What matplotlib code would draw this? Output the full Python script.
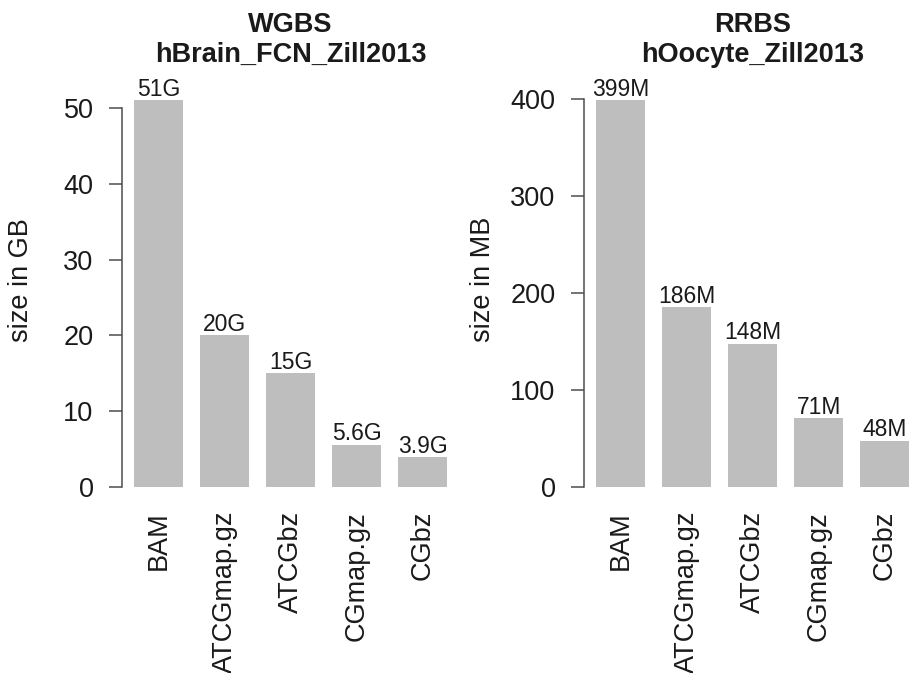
import matplotlib
matplotlib.use("Agg")
import matplotlib.pyplot as plt
import matplotlib.transforms as mtransforms
import numpy as np

plt.rcParams['font.family'] = ['Liberation Sans', 'DejaVu Sans']

# file formats, same order in both panels
formats = ["BAM", "ATCGmap.gz", "ATCGbz", "CGmap.gz", "CGbz"]

# WGBS sample, sizes in GB
wgbs_title = "WGBS\nhBrain_FCN_Zill2013"
wgbs_sizes = [51, 20, 15, 5.6, 3.9]
wgbs_labels = ["51G", "20G", "15G", "5.6G", "3.9G"]
wgbs_ticks = [0, 10, 20, 30, 40, 50]

# RRBS sample, sizes in MB
rrbs_title = "RRBS\nhOocyte_Zill2013"
rrbs_sizes = [399, 186, 148, 71, 48]
rrbs_labels = ["399M", "186M", "148M", "71M", "48M"]
rrbs_ticks = [0, 100, 200, 300, 400]

W, H = 912, 673
BAR = "#bebebe"
INK = "#1a1a1a"
AXC = "#4d4d4d"


def px_box(left, top, right, bottom):
    return [left / W, 1 - bottom / H, (right - left) / W, (bottom - top) / H]


def panel(fig, box, sizes, labels, ticks, title, ylab):
    ax = fig.add_axes(box)
    x = np.arange(len(formats))
    ax.bar(x, sizes, width=0.74, color=BAR, edgecolor="none")
    top = max(sizes)
    ax.set_xlim(-0.552, 4.55)
    ax.set_ylim(-0.04 * top, 1.04 * top)

    # value text above each bar
    for xi, v, lab in zip(x, sizes, labels):
        ax.annotate(lab, (xi, v), xytext=(0, 3), textcoords="offset points",
                    ha="center", va="baseline", fontsize=16.5, color=INK)

    for s in ["top", "right", "bottom"]:
        ax.spines[s].set_visible(False)
    ax.spines["left"].set_bounds(ticks[0], ticks[-1])
    ax.spines["left"].set_color(AXC)
    ax.spines["left"].set_linewidth(1.1)

    ax.set_yticks(ticks)
    ax.set_yticklabels([str(t) for t in ticks])
    ax.tick_params(axis="y", length=9.5, width=1.1, color=AXC, pad=11,
                   labelsize=19.5, labelcolor=INK)
    ax.set_xticks(x)
    ax.set_xticklabels(formats, rotation=90, va="top", ha="center")
    ax.tick_params(axis="x", length=0, pad=6, labelsize=19.5, labelcolor=INK)

    ax.set_ylabel(ylab, fontsize=19.5, color=INK)
    ax.yaxis.set_label_coords(-0.26, 0.5 + 14 / 417.5)

    trans = mtransforms.blended_transform_factory(ax.transAxes, fig.transFigure)
    line1, line2 = title.split("\n")
    ax.text(0.5, 1 - 32 / H, line1, transform=trans, ha="center",
            va="baseline", fontsize=19.5, fontweight="bold", color=INK)
    ax.text(0.5, 1 - 62 / H, line2, transform=trans, ha="center",
            va="baseline", fontsize=19.5, fontweight="bold", color=INK)
    return ax


fig = plt.figure(figsize=(W / 100, H / 100), dpi=100)
panel(fig, px_box(122, 85, 459, 502.5), wgbs_sizes, wgbs_labels,
      wgbs_ticks, wgbs_title, "size in GB")
panel(fig, px_box(584, 85, 921, 502.5), rrbs_sizes, rrbs_labels,
      rrbs_ticks, rrbs_title, "size in MB")

fig.savefig("out.png", dpi=100)
